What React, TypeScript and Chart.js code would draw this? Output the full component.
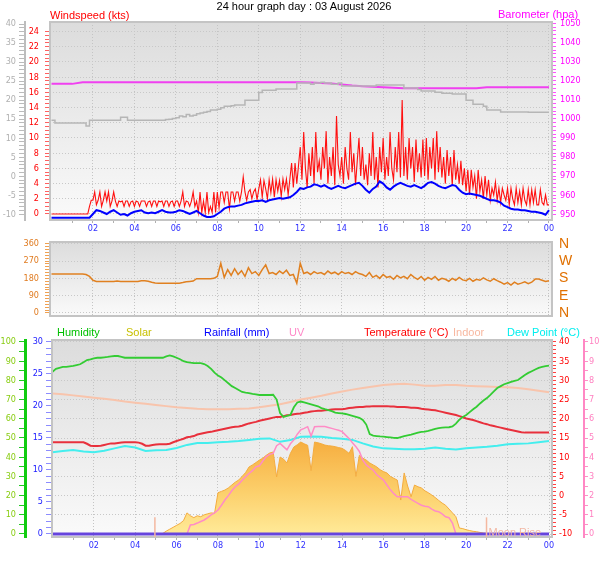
import { useEffect, useRef } from 'react';
import { Chart, registerables } from 'chart.js';

Chart.register(...registerables);

const FONT = '"Liberation Sans", Arial, sans-serif';
const TICK_FONT = '"Liberation Sans Narrow", "DejaVu Sans Condensed", Arial, sans-serif';

// ---- x axis: hours since midnight ----
const hourLabelTimes = [2, 4, 6, 8, 10, 12, 14, 16, 18, 20, 22, 24];
const hourLabels = ['02', '04', '06', '08', '10', '12', '14', '16', '18', '20', '22', '00'];

// ---- y axis ticks ----
const windTicks = [0, 2, 4, 6, 8, 10, 12, 14, 16, 18, 20, 22, 24];
const windLabels = ['0', '2', '4', '6', '8', '10', '12', '14', '16', '18', '20', '22', '24'];
const grayTicks = [-10, -5, 0, 5, 10, 15, 20, 25, 30, 35, 40];
const grayLabels = ['-10', '-5', '0', '5', '10', '15', '20', '25', '30', '35', '40'];
const baroTicks = [950, 960, 970, 980, 990, 1000, 1010, 1020, 1030, 1040, 1050];
const baroLabels = ['950', '960', '970', '980', '990', '1000', '1010', '1020', '1030', '1040', '1050'];
const dirTicks = [0, 90, 180, 270, 360];
const dirLabels = ['0', '90', '180', '270', '360'];
const compassLabels = ['N', 'E', 'S', 'W', 'N'];
const humTicks = [0, 10, 20, 30, 40, 50, 60, 70, 80, 90, 100];
const humLabels = ['0', '10', '20', '30', '40', '50', '60', '70', '80', '90', '100'];
const rainTicks = [0, 5, 10, 15, 20, 25, 30];
const rainLabels = ['0', '5', '10', '15', '20', '25', '30'];
const tempTicks = [-10, -5, 0, 5, 10, 15, 20, 25, 30, 35, 40];
const tempLabels = ['-10', '-5', '0', '5', '10', '15', '20', '25', '30', '35', '40'];
const uvTicks = [0, 1, 2, 3, 4, 5, 6, 7, 8, 9, 10];
const uvLabels = ['0', '1', '2', '3', '4', '5', '6', '7', '8', '9', '10'];

// ---- series ----
// wind gust, kts, every 5 minutes
const gustKts = [
  0, 0, 0, 0, 0, 0, 0, 0, 0, 0, 0, 0,
  0, 0, 0, 0, 0, 0, 0, 0, 0, 0, 1, 1.8,
  1.8, 2.9, 1.2, 1.8, 2.9, 1.0, 1.8, 2.9, 1.7, 2.9, 1.0, 1.7,
  2.9, 1.7, 1.0, 1.7, 1.6, 1.7, 1.0, 1.7, 1.7, 1.0, 1.6, 1.7,
  1.0, 1.7, 1.6, 1.0, 1.7, 1.7, 1.7, 1.0, 1.6, 1.7, 1.0, 1.7,
  1.7, 1.0, 1.7, 1.6, 1.7, 1.0, 1.7, 1.7, 1.0, 1.6, 1.7, 1.0,
  1.7, 1.7, 1.0, 1.7, 2.9, 1.0, 1.7, 1.6, 1.0, 1.7, 2.9, 1.0,
  1.7, 0.2, 2.9, 0.2, 1.7, 0.2, 2.9, 0.2, 1.0, 0.2, 2.9, 0.2,
  2.9, 0.8, 2.9, 2.9, 1.5, 2.9, 2.9, 0.7, 2.9, 2.9, 1.7, 2.9,
  2.9, 1.7, 2.9, 4.9, 2.9, 1.8, 2.9, 3.2, 2.0, 2.9, 3.3, 1.9,
  3.3, 4.5, 2.2, 4.4, 3.3, 2.0, 4.5, 2.8, 4.6, 2.2, 4.5, 3.0,
  4.4, 2.3, 4.6, 3.2, 4.6, 2.5, 4.6, 6.7, 3.5, 6.7, 4.0, 6.4,
  8.8, 4.5, 10.8, 6.0, 3.5, 8.0, 5.0, 8.8, 4.0, 10.8, 5.5, 7.0,
  4.5, 8.8, 6.0, 10.9, 4.0, 7.5, 5.0, 8.8, 3.8, 12.9, 6.5, 5.0,
  7.5, 4.0, 8.8, 6.0, 4.5, 10.8, 5.5, 8.0, 3.8, 7.0, 10.0, 5.0,
  8.8, 4.5, 6.5, 3.8, 8.0, 5.0, 10.8, 4.5, 7.5, 3.5, 8.8, 5.5,
  10.0, 4.5, 7.5, 5.0, 10.8, 6.0, 4.5, 8.8, 5.5, 10.8, 4.8, 15.0,
  5.0, 8.8, 4.5, 10.0, 6.0, 8.8, 4.2, 9.8, 5.5, 8.0, 4.8, 9.8,
  5.0, 10.0, 4.5, 8.8, 6.0, 10.0, 4.5, 10.9, 5.5, 8.8, 4.8, 7.5,
  4.0, 8.4, 5.0, 7.5, 3.8, 8.4, 4.5, 6.5, 4.0, 7.0, 3.8, 6.0,
  3.0, 5.8, 2.5, 5.8, 3.5, 5.0, 2.0, 5.8, 3.0, 4.5, 2.0, 5.0,
  2.5, 4.5, 1.8, 3.4, 2.5, 4.2, 1.8, 3.4, 1.5, 3.4, 2.5, 1.8,
  3.4, 1.2, 3.4, 2.0, 1.2, 3.4, 1.5, 3.0, 1.2, 3.4, 1.8, 1.2,
  3.2, 1.2, 3.2, 1.5, 3.2, 1.2, 1.2, 3.2, 1.5, 1.2, 2.5, 1.2,
  1.2,
];

// average wind, kts, every 10 minutes
const avgKts = [
  -0.5, -0.5, -0.5, -0.5, -0.5, -0.5,
  -0.5, -0.5, -0.5, -0.5, -0.5, -0.5,
  0.0, 0.5, 0.4, 0.2, 0.0, 0.3,
  0.5, 0.2, -0.1, 0.0, -0.2, 0.1,
  0.3, 0.4, 0.5, 0.2, 0.1, 0.2,
  0.1, 0.3, 0.5, 0.3, 0.2, 0.2,
  0.3, 0.5, 0.4, 0.2, 0.0, 0.2,
  0.4, 0.1, -0.2, -0.4, -0.4, -0.3,
  0.0, 0.3, 0.7, 0.9, 1.0, 1.0,
  1.1, 1.2, 1.4, 1.5, 1.6, 1.7,
  1.7, 1.8, 1.6, 1.8, 1.9, 2.0,
  2.1, 2.0, 2.1, 2.2, 2.5, 2.9,
  3.4, 3.3, 3.5, 3.6, 3.9, 3.8,
  3.6, 3.8, 3.5, 3.3, 3.5, 3.7,
  3.5, 3.4, 3.6, 3.8, 4.0, 4.1,
  3.7, 3.2, 2.8, 3.3, 3.6, 4.3,
  4.0, 3.5, 3.2, 3.6, 3.9, 4.1,
  3.9, 3.7, 3.6, 3.8, 3.6, 3.4,
  3.7, 4.1, 4.2, 4.0, 3.7, 3.5,
  3.4, 3.6, 3.8, 3.7, 3.2, 2.8,
  2.6, 2.7, 2.6, 2.5, 2.4, 2.2,
  2.0, 1.8, 1.8, 1.7, 1.5, 1.1,
  0.9, 0.7, 0.6, 0.6, 0.5, 0.5,
  0.4, 0.3, 0.3, 0.2, 0.1, -0.1,
  0.5,
];

// grey trace on the left grey scale, every 10 minutes
const greyTrace = [
  14.7, 14.0, 14.0, 14.0, 14.0, 14.0,
  14.0, 14.0, 14.0, 14.0, 13.2, 14.7,
  14.7, 14.7, 14.7, 14.7, 14.7, 14.7,
  14.7, 14.7, 15.5, 15.5, 14.7, 14.7,
  14.7, 14.7, 14.7, 14.7, 14.7, 14.7,
  14.7, 14.7, 14.7, 14.9, 15.0, 15.2,
  15.4, 15.8, 15.6, 16.2, 15.8, 16.0,
  16.4, 16.6, 16.8, 17.0, 17.4, 17.4,
  17.6, 18.0, 18.4, 18.4, 18.5, 18.7,
  18.7, 18.7, 20.0, 20.0, 20.0, 20.0,
  22.0, 22.6, 22.6, 22.6, 22.6, 22.9,
  22.9, 22.9, 22.9, 22.9, 22.9, 24.5,
  24.5, 24.5, 24.5, 24.2, 24.5, 24.5,
  24.7, 24.5, 24.5, 24.2, 24.2, 24.5,
  23.7, 23.7, 23.7, 23.7, 23.7, 23.7,
  23.7, 23.7, 23.7, 23.7, 24.0, 24.0,
  24.0, 24.0, 24.0, 24.0, 24.0, 24.0,
  23.2, 23.2, 23.2, 23.2, 22.8, 22.4,
  22.4, 22.4, 22.4, 22.1, 22.1, 21.8,
  21.8, 21.8, 21.6, 21.6, 21.6, 21.6,
  20.0, 20.0, 18.9, 18.9, 18.9, 18.4,
  17.4, 17.4, 17.4, 17.4, 16.9, 16.9,
  16.9, 16.9, 16.9, 16.9, 16.9, 16.9,
  16.8, 16.8, 16.8, 16.8, 16.8, 16.8,
  16.8,
];

// barometer, hpa, every 30 minutes
const baroHpa = [
  1018.3, 1018.3, 1018.3, 1019.2, 1019.2, 1019.2, 1019.2, 1019.2,
  1019.2, 1019.2, 1019.2, 1019.2, 1019.2, 1019.2, 1019.2, 1019.2,
  1019.2, 1019.2, 1019.2, 1019.2, 1019.2, 1019.2, 1019.2, 1019.2,
  1019.2, 1019.0, 1018.8, 1018.5, 1018.0, 1017.4, 1017.0, 1016.8,
  1016.5, 1016.2, 1016.0, 1016.0, 1016.0, 1016.0, 1016.0, 1016.0,
  1016.0, 1016.0, 1016.5, 1016.5, 1016.5, 1016.5, 1016.5, 1016.5,
  1016.5,
];

// wind direction, degrees, every 10 minutes
const windDir = [
  203, 203, 203, 203, 203, 203,
  203, 203, 203, 203, 200, 190,
  170, 164, 164, 164, 164, 164,
  164, 166, 164, 164, 164, 164,
  164, 164, 168, 168, 165, 160,
  156, 155, 155, 155, 155, 155,
  155, 155, 158, 162, 164, 166,
  178, 178, 178, 178, 178, 180,
  190, 258, 185, 225, 195, 230,
  200, 220, 190, 235, 205, 215,
  195, 225, 250, 205, 210, 200,
  218, 205, 222, 195, 200, 155,
  258, 205, 212, 200, 215, 205,
  210, 200, 218, 205, 212, 200,
  215, 205, 210, 200, 215, 205,
  200, 190, 210, 185, 195, 180,
  200, 185, 190, 175, 195, 182,
  190, 178, 200, 185, 175, 190,
  170, 185, 175, 190, 170, 180,
  175, 165, 180, 170, 185, 172,
  168, 180, 165, 175, 170, 182,
  172, 165, 178, 168, 160, 150,
  158, 145, 160, 150, 155, 162,
  152, 160, 176, 176, 170, 164,
  168,
];

// humidity, %, every 10 minutes
const humidity = [
  84.5, 86.0, 86.5, 87.0, 87.0, 87.3,
  87.6, 88.0, 88.4, 89.5, 90.6, 91.0,
  91.5, 91.8, 91.8, 92.0, 92.2, 92.5,
  92.7, 92.7, 92.3, 91.8, 91.8, 91.8,
  91.8, 91.8, 91.8, 91.8, 91.8, 91.8,
  91.8, 91.8, 91.8, 92.5, 93.0, 92.5,
  91.8, 91.0, 90.0, 89.5, 89.2, 89.0,
  89.0, 89.0, 88.5, 87.5, 86.0, 84.0,
  82.5, 81.5, 80.0, 78.5, 77.0, 76.0,
  75.0, 74.0, 73.6, 73.4, 73.0, 72.7,
  72.4, 72.4, 72.4, 72.4, 72.5, 70.0,
  63.0, 61.0, 61.5, 62.0, 66.0, 68.5,
  69.0, 68.5, 68.0, 67.5, 67.0, 66.5,
  65.6, 65.0, 64.5, 64.0, 63.2, 63.0,
  62.8, 62.5, 62.0, 61.5, 61.0, 60.5,
  59.4, 57.0, 52.0, 51.2, 51.0, 50.8,
  50.7, 50.5, 50.3, 50.1, 50.0, 50.5,
  51.0, 51.4, 51.8, 52.3, 52.8, 53.2,
  53.3, 53.7, 54.2, 54.8, 55.2, 55.4,
  55.5, 55.6, 56.0, 57.5, 59.5, 61.0,
  62.0, 63.5, 65.0, 66.3, 68.0, 69.5,
  70.8, 72.5, 74.3, 76.0, 77.0, 78.0,
  78.6, 79.2, 79.8, 80.2, 81.5, 82.8,
  83.9, 84.8, 85.7, 86.5, 87.0, 87.4,
  87.7,
];

// outdoor temperature, °C, every 10 minutes
const tempC = [
  13.9, 13.9, 13.9, 13.9, 13.9, 13.9,
  13.9, 13.9, 13.9, 13.9, 13.5, 13.0,
  12.9, 12.9, 13.0, 13.2, 13.4, 13.6,
  13.6, 13.7, 13.8, 13.9, 13.9, 13.9,
  13.9, 13.8, 13.5, 13.0, 13.0, 13.2,
  13.3, 13.4, 13.4, 13.4, 13.5, 13.9,
  14.2, 14.5, 14.8, 15.2, 15.3, 15.5,
  15.9, 16.1, 16.3, 16.5, 16.6, 16.8,
  17.0, 17.2, 17.4, 17.6, 17.8, 17.9,
  18.0, 18.2, 18.5, 18.8, 19.0, 19.2,
  19.5, 19.7, 19.9, 20.1, 20.3, 20.5,
  20.5, 20.7, 20.9, 21.0, 21.2, 21.3,
  21.4, 21.6, 21.7, 21.9, 22.0, 22.1,
  22.1, 22.2, 22.3, 22.4, 22.5, 22.5,
  22.5, 22.6, 22.8, 22.9, 23.0, 23.1,
  23.1, 23.2, 23.2, 23.3, 23.3, 23.3,
  23.3, 23.3, 23.2, 23.2, 23.1, 23.1,
  23.1, 23.0, 22.9, 22.9, 22.8, 22.6,
  22.5, 22.4, 22.3, 22.2, 22.0, 21.8,
  21.6, 21.4, 21.2, 21.0, 20.7, 20.4,
  20.1, 19.9, 19.7, 19.4, 19.1, 18.8,
  18.6, 18.3, 18.1, 17.9, 17.7, 17.5,
  17.3, 17.1, 16.9, 16.7, 16.5, 16.4,
  16.4, 16.4, 16.4, 16.4, 16.4, 16.4,
  16.4,
];

// indoor temperature, °C, every 30 minutes
const indoorC = [
  26.6, 26.4, 26.1, 25.8, 25.5, 25.2, 24.9, 24.5, 24.2, 23.9,
  23.6, 23.3, 23.0, 22.8, 22.6, 22.5, 22.5, 22.5, 22.6, 22.7,
  23.0, 23.4, 23.8, 24.4, 25.0, 25.5, 26.0, 26.6, 27.1, 27.6,
  28.0, 28.4, 28.8, 29.0, 29.1, 28.9, 28.6, 28.6, 28.8, 28.8,
  28.6, 28.5, 28.4, 28.3, 28.2, 28.0, 27.7, 27.3, 26.9,
];

// dew point, °C, every 30 minutes
const dewC = [
  11.3, 11.6, 11.9, 11.5, 11.3, 11.7, 12.3, 12.9, 12.5, 11.6,
  11.8, 11.9, 12.4, 13.2, 13.7, 13.7, 13.9, 14.0, 14.2, 14.5,
  14.8, 14.9, 14.0, 14.5, 15.3, 15.4, 15.3, 15.0, 14.8, 14.5,
  13.6, 12.8, 12.3, 12.2, 12.1, 12.1, 12.2, 12.5, 12.2, 12.0,
  12.3, 12.5, 12.7, 13.0, 13.4, 13.5, 13.6, 13.9, 14.2,
];

// solar radiation, W/m², every 10 minutes
const solarWm2 = [
  0, 0, 0, 0, 0, 0,
  0, 0, 0, 0, 0, 0,
  0, 0, 0, 0, 0, 0,
  0, 0, 0, 0, 0, 0,
  0, 0, 0, 0, 0, 0,
  0, 0, 3, 15, 25, 35,
  45, 55, 70, 110, 95, 85,
  95, 90, 100, 105, 110, 108,
  215, 222, 229, 240, 255, 270,
  281, 300, 320, 349, 360, 372,
  385, 395, 410, 422, 427, 297,
  401, 390, 370, 420, 453, 465,
  479, 470, 462, 330, 479, 475,
  470, 463, 460, 458, 455, 450,
  446, 435, 420, 455, 300, 410,
  395, 385, 370, 360, 350, 335,
  325, 318, 300, 290, 281, 177,
  318, 250, 194, 255, 246, 240,
  225, 215, 203, 190, 175, 161,
  150, 130, 110, 90, 31, 28,
  22, 18, 14, 12, 8, 5,
  3, 0, 0, 0, 0, 0,
  0, 0, 0, 0, 0, 0,
  0, 0, 0, 0, 0, 0,
  0,
];

// UV index, every 10 minutes
const uvIndex = [
  0, 0, 0, 0, 0, 0,
  0, 0, 0, 0, 0, 0,
  0, 0, 0, 0, 0, 0,
  0, 0, 0, 0, 0, 0,
  0, 0, 0, 0, 0, 0,
  0, 0, 0, 0, 0, 0,
  0, 0, 0, 0, 0.47, 0.5,
  0.57, 0.65, 0.73, 0.85, 1.0, 1.1,
  1.25, 1.5, 1.77, 2.0, 2.25, 2.46,
  2.6, 2.8, 2.98, 3.15, 3.3, 3.5,
  3.55, 3.8, 4.03, 4.15, 4.2, 4.6,
  4.72, 4.55, 4.38, 4.7, 4.9, 5.2,
  5.42, 5.5, 5.59, 5.1, 5.59, 5.6,
  5.6, 5.6, 5.55, 5.5, 5.45, 5.4,
  5.33, 5.15, 4.98, 4.75, 4.55, 4.3,
  3.85, 3.6, 3.45, 3.33, 3.1, 2.95,
  2.81, 2.55, 2.3, 2.1, 1.94, 1.94,
  1.94, 1.94, 1.8, 1.7, 1.6, 1.5,
  1.45, 1.42, 1.3, 1.2, 1.16, 1.05,
  0.9, 0.85, 0.57, 0, 0, 0,
  0, 0, 0, 0, 0, 0,
  0, 0, 0, 0, 0, 0,
  0, 0, 0, 0, 0, 0,
  0, 0, 0, 0, 0, 0,
  0,
];

// rainfall, mm, every 2 hours
const rainMm = [0, 0, 0, 0, 0, 0, 0, 0, 0, 0, 0, 0, 0];

// moon events (hour) and their captions
const moonTimes = [4.95, 20.98];
const moonCaptions = ['', 'Moon Rise'];

const legendItems = [
  { text: 'Humidity', color: '#00c000', left: 57 },
  { text: 'Solar', color: '#c8c000', left: 126 },
  { text: 'Rainfall (mm)', color: '#0000ff', left: 204 },
  { text: 'UV', color: '#ff88c8', left: 289 },
  { text: 'Temperature (°C)', color: '#ff0000', left: 364 },
  { text: 'Indoor', color: '#f8b8a0', left: 453 },
  { text: 'Dew Point (°C)', color: '#00eeee', left: 507 },
];

const pts = (vals: number[], step: number) => vals.map((y, i) => ({ x: i * step, y }));

const tickList = (major: number[], minor: number) => {
  const out: { value: number }[] = [];
  const lo = major[0];
  const hi = major[major.length - 1];
  for (let v = lo; v <= hi + 1e-9; v += minor) out.push({ value: Math.round(v * 1000) / 1000 });
  return out;
};

const hourTickList = () => {
  const out: { value: number }[] = [];
  for (let h = 1; h <= 24; h++) out.push({ value: h });
  return out;
};

const xScale = (min: number, height: number, show: boolean) => ({
  type: 'linear',
  min,
  max: 24.145,
  afterBuildTicks: (s: any) => { s.ticks = hourTickList(); },
  afterFit: (s: any) => { s.height = height; s.paddingLeft = 0; s.paddingRight = 0; },
  grid: {
    display: true,
    drawTicks: show,
    tickLength: 3,
    color: (c: any) => (c.tick && hourLabelTimes.includes(c.tick.value) ? '#c4c4c4' : 'rgba(0,0,0,0)'),
    tickColor: '#b0b0b0',
  },
  border: { display: false, dash: [1, 2] },
  ticks: {
    display: show,
    autoSkip: false,
    maxRotation: 0,
    color: '#3030ff',
    padding: 0,
    font: { family: TICK_FONT, size: 9 },
    callback: (v: number) => {
      const i = hourLabelTimes.indexOf(v);
      return i >= 0 ? hourLabels[i] : '';
    },
  },
});

const yScale = (o: any) => ({
  type: 'linear',
  position: o.pos,
  weight: o.weight,
  min: o.min,
  max: o.max,
  afterBuildTicks: (s: any) => { s.ticks = tickList(o.major, o.minor); },
  afterFit: (s: any) => { s.width = o.width; s.paddingTop = 0; s.paddingBottom = 0; },
  grid: {
    drawOnChartArea: !!o.grid,
    color: (c: any) => (c.tick && o.major.includes(c.tick.value) ? '#c8c8c8' : 'rgba(0,0,0,0)'),
    tickColor: o.tickColor,
    tickLength: o.tickLength,
    tickWidth: 1,
  },
  border: {
    display: !!o.line,
    color: o.line ? o.line.color : undefined,
    width: o.line ? o.line.width : 1,
    dash: [1, 2],
  },
  ticks: {
    autoSkip: false,
    color: o.color,
    padding: o.pad,
    font: { family: o.family || TICK_FONT, size: o.size || 9 },
    callback: (v: number) => {
      const i = o.major.indexOf(v);
      return i >= 0 ? o.labels[i] : '';
    },
  },
});

const plotFrame = {
  id: 'plotFrame',
  beforeDraw(chart: any) {
    const { ctx, chartArea: a } = chart;
    const g = ctx.createLinearGradient(0, a.top, 0, a.bottom);
    g.addColorStop(0, '#dcdcdc');
    g.addColorStop(1, '#fafafa');
    ctx.save();
    ctx.fillStyle = g;
    ctx.fillRect(a.left, a.top, a.right - a.left, a.bottom - a.top);
    ctx.restore();
  },
  afterDatasetsDraw(chart: any) {
    const { ctx, chartArea: a } = chart;
    ctx.save();
    ctx.strokeStyle = '#c4c4c4';
    ctx.lineWidth = 2;
    ctx.strokeRect(a.left, a.top, a.right - a.left, a.bottom - a.top);
    ctx.restore();
  },
};

const moonMarks = {
  id: 'moonMarks',
  afterDatasetsDraw(chart: any) {
    const { ctx, chartArea: a, scales } = chart;
    ctx.save();
    ctx.strokeStyle = '#f4b8a0';
    ctx.fillStyle = '#f2b8a4';
    ctx.lineWidth = 1.5;
    ctx.font = `11px ${FONT}`;
    ctx.textBaseline = 'bottom';
    moonTimes.forEach((t, i) => {
      const x = scales.x.getPixelForValue(t);
      ctx.beginPath();
      ctx.moveTo(x, scales.yRain.getPixelForValue(2.6));
      ctx.lineTo(x, a.bottom);
      ctx.stroke();
      if (moonCaptions[i]) ctx.fillText(moonCaptions[i], x + 2, a.bottom + 1);
    });
    ctx.restore();
  },
};

const baseOptions = {
  responsive: false,
  animation: false,
  events: [],
  plugins: { legend: { display: false }, tooltip: { enabled: false } },
  elements: { point: { radius: 0 }, line: { tension: 0 } },
};

const App = () => {
  const windRef = useRef<HTMLCanvasElement>(null);
  const dirRef = useRef<HTMLCanvasElement>(null);
  const climateRef = useRef<HTMLCanvasElement>(null);

  useEffect(() => {
    if (!windRef.current || !dirRef.current || !climateRef.current) return;

    // top panel: wind speed, gust, barometer
    const windChart = new Chart(windRef.current, {
      type: 'line',
      data: {
        datasets: [
          { data: pts(avgKts, 1 / 6), yAxisID: 'yWind', borderColor: '#0000ff', borderWidth: 2 },
          { data: pts(gustKts, 1 / 12), yAxisID: 'yWind', borderColor: '#ff1010', borderWidth: 1.1 },
          { data: pts(greyTrace, 1 / 6), yAxisID: 'yGray', borderColor: '#b6b6b6', borderWidth: 1.5, stepped: true },
          { data: pts(baroHpa, 0.5), yAxisID: 'yBaro', borderColor: '#f040f0', borderWidth: 2 },
        ],
      },
      options: {
        ...baseOptions,
        layout: { padding: { top: 22, left: 0, right: 0, bottom: 0 } },
        scales: {
          x: xScale(-0.072, 16, true),
          yGray: yScale({
            pos: 'left', weight: 2, width: 25, min: -11.5, max: 40.53,
            major: grayTicks, labels: grayLabels, minor: 1,
            color: '#b0b0b0', tickColor: '#bbbbbb', tickLength: 6, pad: 3,
            line: { color: '#bdbdbd', width: 2 },
          }),
          yWind: yScale({
            pos: 'left', weight: 1, width: 25, min: -0.79, max: 25.26,
            major: windTicks, labels: windLabels, minor: 0.5,
            color: '#ff0000', tickColor: '#ff6060', tickLength: 5, pad: 6, grid: true,
          }),
          yBaro: yScale({
            pos: 'right', weight: 1, width: 56, min: 947, max: 1050.7,
            major: baroTicks, labels: baroLabels, minor: 2,
            color: '#ff00ff', tickColor: '#ff50ff', tickLength: 4, pad: 4,
          }),
        },
      } as any,
      plugins: [plotFrame],
    });

    // middle panel: wind direction
    const dirChart = new Chart(dirRef.current, {
      type: 'line',
      data: {
        datasets: [
          { data: pts(windDir, 1 / 6), yAxisID: 'yDir', borderColor: '#e08020', borderWidth: 1.5 },
        ],
      },
      options: {
        ...baseOptions,
        layout: { padding: { top: 6, left: 0, right: 0, bottom: 6 } },
        scales: {
          x: xScale(-0.072, 0, false),
          yDir: yScale({
            pos: 'left', weight: 1, width: 50, min: -15.6, max: 368.8,
            major: dirTicks, labels: dirLabels, minor: 15,
            color: '#e07b20', tickColor: '#f0a050', tickLength: 5, pad: 6, grid: true,
          }),
          yCompass: yScale({
            pos: 'right', weight: 1, width: 56, min: -15.6, max: 368.8,
            major: dirTicks, labels: compassLabels, minor: 90,
            color: '#e07000', tickColor: 'rgba(0,0,0,0)', tickLength: 0, pad: 7,
            family: FONT, size: 14,
          }),
        },
      } as any,
      plugins: [plotFrame],
    });

    // bottom panel: humidity, solar, rain, UV, temperatures
    const climateChart = new Chart(climateRef.current, {
      type: 'line',
      data: {
        datasets: [
          { data: pts(rainMm, 2), yAxisID: 'yRain', borderColor: '#6644dd', borderWidth: 3 },
          { data: pts(uvIndex, 1 / 6), yAxisID: 'yUv', borderColor: '#ff8cc6', borderWidth: 1.5 },
          { data: pts(humidity, 1 / 6), yAxisID: 'yHum', borderColor: '#33cc33', borderWidth: 1.8 },
          { data: pts(tempC, 1 / 6), yAxisID: 'yTemp', borderColor: '#e8303c', borderWidth: 2 },
          { data: pts(dewC, 0.5), yAxisID: 'yTemp', borderColor: '#44eeee', borderWidth: 2 },
          { data: pts(indoorC, 0.5), yAxisID: 'yTemp', borderColor: '#f8c4ac', borderWidth: 2 },
          {
            data: pts(solarWm2, 1 / 6),
            yAxisID: 'ySolar',
            borderColor: '#f4ac40',
            borderWidth: 1,
            fill: 'origin',
            backgroundColor: (c: any) => {
              const chart = c.chart;
              const area = chart.chartArea;
              if (!area) return '#f8c060';
              const ys = chart.scales.ySolar;
              const g = chart.ctx.createLinearGradient(0, ys.getPixelForValue(480), 0, ys.getPixelForValue(0));
              g.addColorStop(0, '#f6ae40');
              g.addColorStop(0.55, '#fcd06c');
              g.addColorStop(1, '#ffea98');
              return g;
            },
          },
        ],
      },
      options: {
        ...baseOptions,
        layout: { padding: { top: 18, left: 0, right: 0, bottom: 0 } },
        scales: {
          x: xScale(-0.024, 24, true),
          yHum: yScale({
            pos: 'left', weight: 2, width: 25, min: -1.5625, max: 101.04,
            major: humTicks, labels: humLabels, minor: 5,
            color: '#88cc11', tickColor: '#22cc22', tickLength: 6, pad: 3,
            line: { color: '#11cc11', width: 3 },
          }),
          yRain: yScale({
            pos: 'left', weight: 1, width: 27, min: -0.469, max: 30.3125,
            major: rainTicks, labels: rainLabels, minor: 1,
            color: '#2020ff', tickColor: '#8c8cff', tickLength: 6, pad: 3,
          }),
          yTemp: yScale({
            pos: 'right', weight: 1, width: 32, min: -10.78, max: 40.52,
            major: tempTicks, labels: tempLabels, minor: 1,
            color: '#ff0000', tickColor: '#ff4040', tickLength: 4, pad: 3, grid: true,
          }),
          yUv: yScale({
            pos: 'right', weight: 2, width: 24, min: -0.156, max: 10.104,
            major: uvTicks, labels: uvLabels, minor: 0.5,
            color: '#ff80c0', tickColor: '#ff90c8', tickLength: 4, pad: 1,
            line: { color: '#ff88c4', width: 2 },
          }),
          ySolar: { type: 'linear', display: false, min: -15.6, max: 1010.4 },
        },
      } as any,
      plugins: [plotFrame, moonMarks],
    });

    return () => {
      windChart.destroy();
      dirChart.destroy();
      climateChart.destroy();
    };
  }, []);

  const text = (content: string, color: string, left: number, top: number, extra: any = {}) => (
    <div
      style={{
        position: 'absolute', left, top, color, font: `11px ${FONT}`,
        lineHeight: '12px', whiteSpace: 'nowrap', ...extra,
      }}
    >
      {content}
    </div>
  );

  return (
    <div style={{ position: 'absolute', left: 0, top: 0, width: 608, height: 561, background: '#fff', overflow: 'hidden' }}>
      <canvas ref={windRef} width={608} height={236} style={{ position: 'absolute', left: 0, top: 0 }} />
      <canvas ref={dirRef} width={608} height={86} style={{ position: 'absolute', left: 0, top: 236 }} />
      <canvas ref={climateRef} width={608} height={239} style={{ position: 'absolute', left: 0, top: 322 }} />
      {text('24 hour graph day : 03 August 2026', '#000', 0, 0, { width: 608, textAlign: 'center' })}
      {text('Windspeed (kts)', '#ff0000', 50, 9)}
      {text('Barometer (hpa)', '#ff00ff', 498, 8)}
      {legendItems.map((it) => (
        <div key={it.text}>{text(it.text, it.color, it.left, 326)}</div>
      ))}
    </div>
  );
};

export default App;
